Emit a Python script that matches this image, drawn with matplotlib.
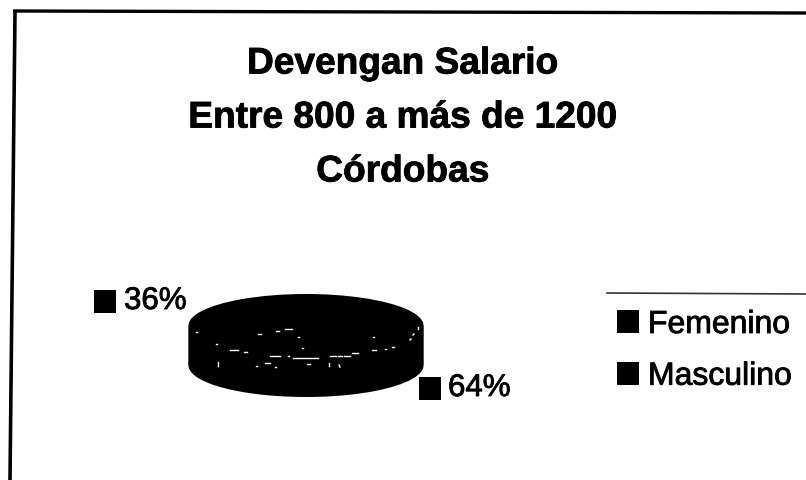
import matplotlib
matplotlib.use('Agg')
import matplotlib.pyplot as plt
import matplotlib.patheffects as pe
from matplotlib.patches import Rectangle

plt.rcParams['font.family'] = ['Liberation Sans', 'DejaVu Sans']

title_lines = ['Devengan Salario', 'Entre 800 a más de 1200', 'Córdobas']
categories = ['Femenino', 'Masculino']
values = [36, 64]
pct_labels = ['36%', '64%']

W, H = 806, 480
fig = plt.figure(figsize=(W / 100, H / 100), dpi=100, facecolor='white')

# whole page in pixel coordinates, y going down
ax = fig.add_axes([0, 0, 1, 1])
ax.set_xlim(0, W)
ax.set_ylim(H, 0)
ax.axis('off')

# scanned text looks heavier than the plain font
heavy = [pe.withStroke(linewidth=0.6, foreground='black')]

# scanned border
ax.plot([15, 10], [11, 480], color='black', lw=2.6, solid_capstyle='butt')
ax.plot([13, 806], [11, 13], color='black', lw=2.4, solid_capstyle='butt')

for line, y in zip(title_lines, [64, 118, 172]):
    ax.text(403, y, line, ha='center', va='center', fontsize=26.7, fontweight='bold',
            color='black', path_effects=heavy)

# pie: squashed into an ellipse, stacked downwards for the 3d depth
rx, ry, depth = 117.5, 31.5, 40
pie_ax = fig.add_axes([(306 - rx) / W, 1 - (294 + 2 * ry + depth) / H, 2 * rx / W, (2 * ry + depth) / H])
for step in range(0, depth + 1, 2):
    wedges, _ = pie_ax.pie(values, radius=1, center=(0, -step / ry), startangle=90,
                           colors=['black', 'black'], wedgeprops={'linewidth': 0})
pie_ax.set_aspect('auto')
pie_ax.set_xlim(-1, 1)
pie_ax.set_ylim(-1 - depth / ry, 1)
pie_ax.axis('off')

# white specks left by the scanner on the pie
specks = [(418, 327, 418, 329), (413, 335, 414, 334), (410, 340, 411, 339), (392, 347, 394, 347),
          (385, 349, 386, 349), (372, 350, 376, 350), (352, 353, 358, 353), (330, 356, 336, 356),
          (338, 356, 342, 356), (344, 356, 350, 356), (293, 358, 318, 358), (288, 356, 289, 356),
          (270, 356, 280, 356), (244, 352, 247, 352), (230, 350, 238, 350), (302, 348, 303, 348),
          (298, 337, 299, 337), (285, 329, 292, 329), (276, 331, 279, 331), (258, 334, 261, 334),
          (373, 337, 374, 337), (196, 332, 197, 332), (216, 344, 217, 344), (218, 362, 218, 366),
          (256, 366, 257, 366), (265, 363, 270, 363), (275, 367, 276, 367), (307, 364, 310, 364),
          (329, 363, 329, 366), (339, 365, 340, 367)]
for x0, y0, x1, y1 in specks:
    ax.plot([x0, x1], [y0, y1], color='white', lw=1.0, zorder=5)
ax.set_zorder(2)
ax.patch.set_visible(False)

# data labels with their little squares
for label, (sx, sy), tx in zip(pct_labels, [(94, 290), (419, 377)], [124, 448]):
    ax.add_patch(Rectangle((sx, sy), 22, 23, color='black', lw=0))
    ax.text(tx, sy + 11, label, ha='left', va='center', fontsize=22.5, color='black', path_effects=heavy)

# legend
ax.plot([607, 806], [293, 294], color='#333333', lw=1.2)
leg = ax.legend(wedges, categories, loc='upper left', bbox_to_anchor=(617 / W, 1 - 310 / H),
                bbox_transform=fig.transFigure, frameon=False, fontsize=23,
                handlelength=0.69, handleheight=0.72, handletextpad=0.28,
                labelspacing=0.68, borderpad=0, borderaxespad=0)
for text in leg.get_texts():
    text.set_path_effects(heavy)

fig.savefig('out.png', dpi=100, facecolor='white')
